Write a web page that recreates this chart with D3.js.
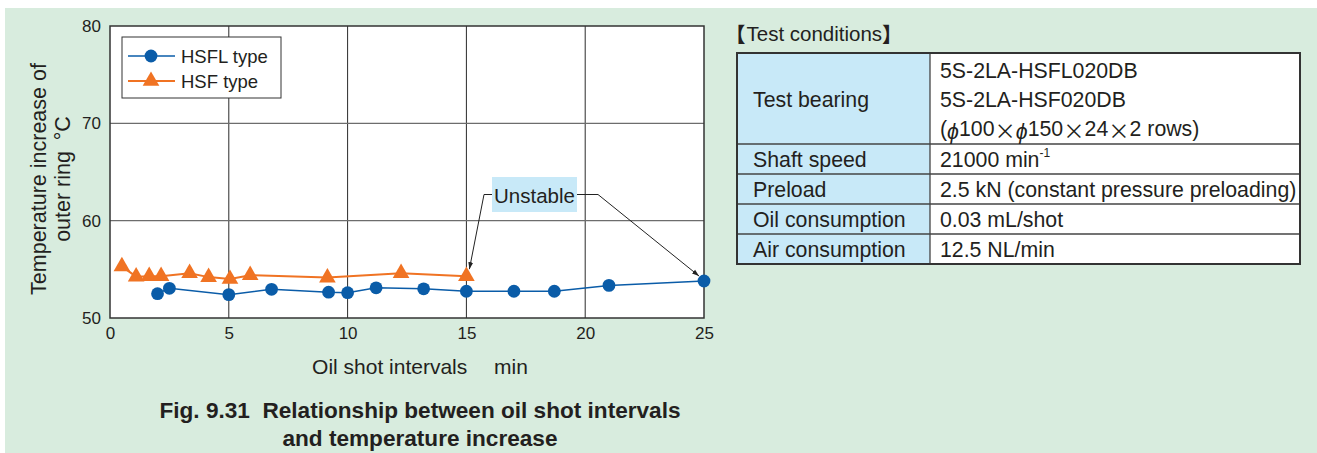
<!DOCTYPE html>
<html>
<head>
<meta charset="utf-8">
<script src="https://cdn.jsdelivr.net/npm/d3@7/dist/d3.min.js"></script>
<style>
  html, body { margin: 0; padding: 0; background: #ffffff; }
  svg { display: block; }
  text { font-family: "Liberation Sans", Arial, "Noto Sans CJK JP", sans-serif; fill: #231f20; }
  .cjk { font-family: "Noto Sans CJK JP", "Liberation Sans", sans-serif; }
</style>
</head>
<body>
<svg id="chart" width="1317" height="453"></svg>
<script>
// Oil shot interval (min) vs. outer ring temperature increase (°C)
const xTicks = [0, 5, 10, 15, 20, 25];
const yTicks = [50, 60, 70, 80];

const hsflX = [2.0, 2.5, 5.0, 6.8, 9.2, 10.0, 11.2, 13.2, 15.0, 17.0, 18.7, 21.0, 25.0];
const hsflY = [52.5, 53.05, 52.4, 52.95, 52.65, 52.6, 53.1, 53.0, 52.75, 52.75, 52.75, 53.35, 53.8];

const hsfX = [0.5, 1.1, 1.65, 2.15, 3.35, 4.15, 5.05, 5.9, 9.15, 12.25, 15.0];
const hsfY = [55.3, 54.25, 54.3, 54.3, 54.6, 54.2, 54.0, 54.4, 54.15, 54.6, 54.3];

const seriesNames = ["HSFL type", "HSF type"];

// Test conditions table
const condLabels = ["Test bearing", "Shaft speed", "Preload", "Oil consumption", "Air consumption"];
const condValues = [
  ["5S-2LA-HSFL020DB", "5S-2LA-HSF020DB", "(\u03d5100\u00d7\u03d5150\u00d724\u00d72 rows)"],
  ["21000 min"],
  ["2.5 kN (constant pressure preloading)"],
  ["0.03 mL/shot"],
  ["12.5 NL/min"]
];

const BLUE = "#0a5ca8";
const ORANGE = "#f07323";
const GREEN_BG = "#d8ecde";
const LIGHT_BLUE = "#c8e9f8";

const svg = d3.select("#chart");

// panel background
svg.append("rect").attr("x", 5).attr("y", 8).attr("width", 1312).attr("height", 445).attr("fill", GREEN_BG);

// plot area
const P = { left: 110, right: 704, top: 26, bottom: 318 };
const x = d3.scaleLinear().domain([0, 25]).range([P.left, P.right]);
const y = d3.scaleLinear().domain([50, 80]).range([P.bottom, P.top]);

svg.append("rect").attr("x", P.left).attr("y", P.top)
  .attr("width", P.right - P.left).attr("height", P.bottom - P.top).attr("fill", "#fff");

// grid
const g = svg.append("g");
g.selectAll("line.vg").data(xTicks.slice(1, -1)).join("line")
  .attr("x1", d => x(d)).attr("x2", d => x(d)).attr("y1", P.top).attr("y2", P.bottom)
  .attr("stroke", "#2a2a2a").attr("stroke-width", 1);
g.selectAll("line.hg").data(yTicks.slice(1, -1)).join("line")
  .attr("x1", P.left).attr("x2", P.right).attr("y1", d => y(d)).attr("y2", d => y(d))
  .attr("stroke", "#6d6d6d").attr("stroke-width", 1.3);

// frame
svg.append("rect").attr("x", P.left).attr("y", P.top)
  .attr("width", P.right - P.left).attr("height", P.bottom - P.top)
  .attr("fill", "none").attr("stroke", "#333").attr("stroke-width", 1.5);

// axes (labels only)
const xAxis = d3.axisBottom(x).tickValues(xTicks).tickSize(0).tickPadding(9);
const yAxis = d3.axisLeft(y).tickValues(yTicks).tickSize(0).tickPadding(9);
const gx = svg.append("g").attr("transform", `translate(0,${P.bottom})`).call(xAxis);
const gy = svg.append("g").attr("transform", `translate(${P.left},0)`).call(yAxis);
[gx, gy].forEach(a => {
  a.select(".domain").remove();
  a.selectAll("text").style("font-size", "17px").attr("fill", "#231f20")
    .style("font-family", '"Liberation Sans", Arial, sans-serif');
});

// axis titles
svg.append("text").attr("x", 420).attr("y", 366).attr("text-anchor", "middle")
  .attr("dominant-baseline", "central").style("font-size", "21px")
  .text("Oil shot intervals\u2003 min").attr("xml:space", "preserve");

const yt = svg.append("text").attr("transform", "translate(0,179) rotate(-90)")
  .attr("text-anchor", "middle").style("font-size", "21.5px");
yt.append("tspan").attr("x", 0).attr("y", 39).attr("dominant-baseline", "central").text("Temperature increase of");
yt.append("tspan").attr("x", 0).attr("y", 63).attr("dominant-baseline", "central").text("outer ring\u2002\u00b0C");

// series
const hsfl = hsflX.map((d, i) => [d, hsflY[i]]);
const hsf = hsfX.map((d, i) => [d, hsfY[i]]);
const line = d3.line().x(d => x(d[0])).y(d => y(d[1]));

svg.append("path").datum(hsfl).attr("d", line).attr("fill", "none")
  .attr("stroke", BLUE).attr("stroke-width", 1.5);
svg.append("path").datum(hsf).attr("d", line).attr("fill", "none")
  .attr("stroke", ORANGE).attr("stroke-width", 2);

const tri = d3.symbol().type(d3.symbolTriangle).size(120);
svg.selectAll("path.tri").data(hsf).join("path")
  .attr("transform", d => `translate(${x(d[0])},${y(d[1])})`)
  .attr("d", tri).attr("fill", ORANGE);
svg.selectAll("circle.dot").data(hsfl).join("circle")
  .attr("cx", d => x(d[0])).attr("cy", d => y(d[1])).attr("r", 6.4).attr("fill", BLUE);

// legend
const lg = svg.append("g");
lg.append("rect").attr("x", 122).attr("y", 37).attr("width", 159).attr("height", 61)
  .attr("fill", "#fff").attr("stroke", "#333").attr("stroke-width", 1);
const legendRows = [
  { name: seriesNames[0], color: BLUE, cy: 56, mark: "circle" },
  { name: seriesNames[1], color: ORANGE, cy: 81, mark: "tri" }
];
legendRows.forEach(r => {
  lg.append("line").attr("x1", 128).attr("x2", 175).attr("y1", r.cy).attr("y2", r.cy)
    .attr("stroke", r.color).attr("stroke-width", r.mark === "tri" ? 2 : 1.5);
  if (r.mark === "circle") {
    lg.append("circle").attr("cx", 151).attr("cy", r.cy).attr("r", 6.4).attr("fill", r.color);
  } else {
    lg.append("path").attr("transform", `translate(151,${r.cy})`).attr("d", tri).attr("fill", r.color);
  }
  lg.append("text").attr("x", 181).attr("y", r.cy).attr("dominant-baseline", "central")
    .style("font-size", "18.5px").text(r.name);
});

// "Unstable" annotation
const defs = svg.append("defs");
defs.append("marker").attr("id", "arrow").attr("viewBox", "0 0 10 10")
  .attr("refX", 10).attr("refY", 5).attr("markerWidth", 7).attr("markerHeight", 7)
  .attr("orient", "auto").attr("markerUnits", "userSpaceOnUse")
  .append("path").attr("d", "M0,1.5 L10,5 L0,8.5 Z").attr("fill", "#222");

const ann = svg.append("g");
const boxL = 492, boxR = 577, boxT = 177, boxB = 212, boxMid = 194.5;
ann.append("rect").attr("x", boxL).attr("y", boxT).attr("width", boxR - boxL).attr("height", boxB - boxT)
  .attr("fill", LIGHT_BLUE);
ann.append("text").attr("x", (boxL + boxR) / 2).attr("y", boxMid + 1).attr("text-anchor", "middle")
  .attr("dominant-baseline", "central").style("font-size", "20.5px").text("Unstable");
const tipA = [x(hsfX[hsfX.length - 1]) + 3, y(hsfY[hsfY.length - 1]) - 7];
const tipB = [x(hsflX[hsflX.length - 1]) - 5, y(hsflY[hsflY.length - 1]) - 5];
ann.append("path").attr("d", `M${boxL},${boxMid} L${boxL - 8},${boxMid} L${tipA[0]},${tipA[1]}`)
  .attr("fill", "none").attr("stroke", "#222").attr("stroke-width", 1).attr("marker-end", "url(#arrow)");
ann.append("path").attr("d", `M${boxR},${boxMid} L${boxR + 21},${boxMid} L${tipB[0]},${tipB[1]}`)
  .attr("fill", "none").attr("stroke", "#222").attr("stroke-width", 1).attr("marker-end", "url(#arrow)");

// caption
svg.append("text").attr("x", 420).attr("y", 410).attr("text-anchor", "middle")
  .attr("dominant-baseline", "central").style("font-size", "22.6px").style("font-weight", "bold")
  .attr("xml:space", "preserve").text("Fig. 9.31  Relationship between oil shot intervals");
svg.append("text").attr("x", 420).attr("y", 438).attr("text-anchor", "middle")
  .attr("dominant-baseline", "central").style("font-size", "22.6px").style("font-weight", "bold")
  .text("and temperature increase");

// test conditions table heading
const head = svg.append("text").attr("x", 725).attr("y", 33).attr("dominant-baseline", "central")
  .style("font-size", "20.5px");
head.append("tspan").attr("class", "cjk").style("font-weight", "bold").text("\u3010");
head.append("tspan").attr("dx", 1).text("Test conditions");
head.append("tspan").attr("class", "cjk").style("font-weight", "bold").attr("dx", 0).text("\u3011");

const T = { left: 737, mid: 930, right: 1300 };
const rowB = [53, 144, 174, 204, 234, 264];
const tg = svg.append("g");
tg.selectAll("rect.lab").data(condLabels).join("rect")
  .attr("x", T.left).attr("y", (d, i) => rowB[i]).attr("width", T.mid - T.left)
  .attr("height", (d, i) => rowB[i + 1] - rowB[i]).attr("fill", LIGHT_BLUE);
tg.selectAll("rect.val").data(condLabels).join("rect")
  .attr("x", T.mid).attr("y", (d, i) => rowB[i]).attr("width", T.right - T.mid)
  .attr("height", (d, i) => rowB[i + 1] - rowB[i]).attr("fill", "#fff");

tg.selectAll("line.rowline").data(rowB.slice(1, -1)).join("line")
  .attr("x1", T.left).attr("x2", T.right).attr("y1", d => d).attr("y2", d => d)
  .attr("stroke", "#444").attr("stroke-width", 1.3);
tg.append("line").attr("x1", T.mid).attr("x2", T.mid).attr("y1", rowB[0]).attr("y2", rowB[rowB.length - 1])
  .attr("stroke", "#444").attr("stroke-width", 1.3);
tg.append("rect").attr("x", T.left).attr("y", rowB[0]).attr("width", T.right - T.left)
  .attr("height", rowB[rowB.length - 1] - rowB[0]).attr("fill", "none")
  .attr("stroke", "#333").attr("stroke-width", 2);

// wide glyphs (phi, multiplication sign) are set in the CJK face
function addMixed(t, s) {
  const parts = s.split(/([\u03d5\u00d7])/).filter(p => p.length);
  parts.forEach(p => {
    const sp = t.append("tspan").text(p);
    if (/[\u03d5\u00d7]/.test(p)) sp.attr("class", "cjk");
    if (p === "\u03d5") sp.style("font-style", "italic");
  });
}

condLabels.forEach((lab, i) => {
  const cy = (rowB[i] + rowB[i + 1]) / 2;
  tg.append("text").attr("x", 753).attr("y", cy + 1).attr("dominant-baseline", "central")
    .style("font-size", "21.3px").text(lab);
  const vals = condValues[i];
  vals.forEach((v, j) => {
    const ty = cy + 1 + (j - (vals.length - 1) / 2) * 29;
    const t = tg.append("text").attr("x", 940).attr("y", ty).attr("dominant-baseline", "central")
      .style("font-size", "21.3px");
    addMixed(t, v);
    if (i === 1) {
      t.append("tspan").attr("dy", -7).style("font-size", "12px").text("-1");
    }
  });
});
</script>
</body>
</html>
